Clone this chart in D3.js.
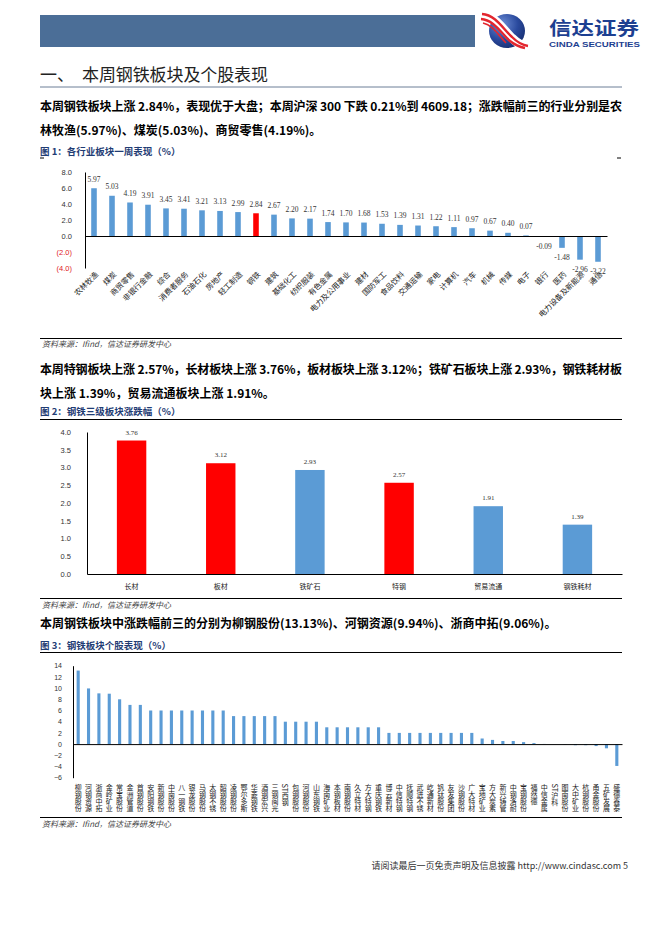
<!DOCTYPE html>
<html>
<head>
<meta charset="utf-8">
<script src="https://cdn.jsdelivr.net/npm/d3@7"></script>
<style>
    html, body { margin: 0; padding: 0; background: #fff; }
    svg { display: block; }
    .cjk { font-family: "Noto Sans CJK SC", "Noto Sans", sans-serif; }
    .num { font-family: "Liberation Sans", Arial, sans-serif; }
    .serif { font-family: "Liberation Serif", "Times New Roman", serif; }
    .tick line { display: none; }
</style>
</head>
<body>
<svg id="page" width="662" height="936"></svg>
<script>
// ---- figure 1: industries, weekly change (%)
const fig1Industries = ['农林牧渔', '煤炭', '商贸零售', '非银行金融', '综合', '消费者服务', '石油石化', '房地产',
    '轻工制造', '钢铁', '建筑', '基础化工', '纺织服装', '有色金属', '电力及公用事业', '建材', '国防军工',
    '食品饮料', '交通运输', '家电', '计算机', '汽车', '机械', '传媒', '电子', '银行', '医药',
    '电力设备及新能源', '通信'];
const fig1Values = [5.97, 5.03, 4.19, 3.91, 3.45, 3.41, 3.21, 3.13, 2.99, 2.84, 2.67, 2.20, 2.17, 1.74, 1.70,
    1.68, 1.53, 1.39, 1.31, 1.22, 1.11, 0.97, 0.67, 0.40, 0.07, -0.09, -1.48, -2.96, -3.22];
const fig1Highlight = ['钢铁'];
const fig1Ticks = [8, 6, 4, 2, 0, -2, -4];

// ---- figure 2: steel sub-sectors (%)
const fig2Sectors = ['长材', '板材', '铁矿石', '特钢', '贸易流通', '钢铁耗材'];
const fig2Values = [3.76, 3.12, 2.93, 2.57, 1.91, 1.39];
const fig2Highlight = ['长材', '板材', '特钢'];
const fig2Ticks = [0, 0.5, 1, 1.5, 2, 2.5, 3, 3.5, 4];

// ---- figure 3: steel stocks (%)
const fig3Stocks = ['柳钢股份', '河钢资源', '浙商中拓', '金岭矿业', '常宝股份', '金洲管道', '首钢股份', '安阳钢铁',
    '新钢股份', '中南股份', '八一钢铁', '银龙股份', '马钢股份', '太钢不锈', '韶钢股份', '凌钢股份', '鄂尔多斯',
    '华菱钢铁', '酒钢宏兴', '三钢闽光', 'ST西钢', '包钢股份', '河钢股份', '山东钢铁', '海南矿业', '本钢板材',
    '南钢股份', '久立特材', '方大特钢', '重庆钢铁', '博云新材', '中信特钢', '抚顺特钢', '武进不锈', '屹通新材',
    '钒钛股份', '友发集团', '沙钢股份', '广大特材', '宝地矿业', '方大炭素', '新兴铸管', '中钢洛耐', '宝钢股份',
    '福然德', '中信金属', 'ST沪科', '图南股份', '大中矿业', '杭钢股份', '甬金股份', '五矿发展', '盛德鑫泰'];
const fig3Values = [13.13, 9.94, 9.06, 9.0, 8.0, 7.0, 7.0, 6.0, 6.0, 6.0, 6.0, 6.0, 6.0, 6.0, 6.0, 5.0, 5.0,
    5.0, 5.0, 5.0, 4.0, 4.0, 4.0, 4.0, 3.0, 3.0, 3.0, 3.0, 3.0, 3.0, 2.0, 2.0, 2.0, 2.0, 2.0, 2.0, 2.0, 2.0, 2.0,
    1.0, 0.75, 0.55, 0.55, 0.35, 0.18, 0.03, -0.03, -0.08, -0.2, -0.2, -0.35, -0.75, -3.9];
const fig3Ticks = [14, 12, 10, 8, 6, 4, 2, 0, -2, -4, -6];

const BLUE = '#5b9bd5';
const RED = '#ff0000';
const TITLE_BLUE = '#1f3c74';
const SOURCE = '资料来源：Ifind，信达证券研发中心';

const svg = d3.select('#page');

// header band + logo
svg.append('rect').attr('x', 40).attr('y', 15).attr('width', 435).attr('height', 32).attr('fill', '#4b6e97');

const defs = svg.append('defs');
const grad = defs.append('radialGradient').attr('id', 'ball').attr('cx', '35%').attr('cy', '30%').attr('r', '75%');
grad.append('stop').attr('offset', '0%').attr('stop-color', '#6f8fd6');
grad.append('stop').attr('offset', '60%').attr('stop-color', '#2a4a9e');
grad.append('stop').attr('offset', '100%').attr('stop-color', '#182f72');

const logo = svg.append('g');
logo.append('ellipse').attr('cx', 507).attr('cy', 31).attr('rx', 18).attr('ry', 17).attr('fill', 'url(#ball)');
logo.append('path').attr('d', 'M482,15 C496,16 503,30 512,38 C517,43 522,46 528,47')
    .attr('fill', 'none').attr('stroke', '#fff').attr('stroke-width', 9);
logo.append('path').attr('d', 'M482,14 C496,15 503,29 512,37 C517,42 522,45 528,46')
    .attr('fill', 'none').attr('stroke', '#e3262e').attr('stroke-width', 2.4);
logo.append('path').attr('d', 'M481,19 C494,20 501,33 510,41 C515,45 520,47 525,48')
    .attr('fill', 'none').attr('stroke', '#e3262e').attr('stroke-width', 2.4);
logo.append('path').attr('d', 'M483,23 C493,25 499,36 506,43')
    .attr('fill', 'none').attr('stroke', '#e3262e').attr('stroke-width', 1.6);
logo.append('text').attr('class', 'cjk').attr('x', 549).attr('y', 34.5)
    .attr('font-size', 18).attr('font-weight', 700).attr('fill', '#1d3f91')
    .attr('textLength', 90).attr('lengthAdjust', 'spacingAndGlyphs').text('信达证券');
logo.append('text').attr('class', 'num').attr('x', 549).attr('y', 47)
    .attr('font-size', 7).attr('font-weight', 700).attr('fill', '#1d3f91')
    .attr('textLength', 91).attr('lengthAdjust', 'spacingAndGlyphs').text('CINDA SECURITIES');

// section title
svg.append('text').attr('class', 'cjk').attr('x', 40).attr('y', 81).attr('font-size', 17).attr('fill', '#222').text('一、');
svg.append('text').attr('class', 'cjk').attr('x', 82).attr('y', 81).attr('font-size', 17).attr('fill', '#222')
    .attr('textLength', 186).text('本周钢铁板块及个股表现');
svg.append('line').attr('x1', 40).attr('x2', 622).attr('y1', 87).attr('y2', 87).attr('stroke', '#6d7f97').attr('stroke-width', 1);

function paragraph(y, text, width) {
    const t = svg.append('text').attr('class', 'cjk').attr('x', 40).attr('y', y)
        .attr('font-size', 12).attr('font-weight', 700).attr('fill', '#000').text(text);
    if (width) t.attr('textLength', width).attr('lengthAdjust', 'spacing');
}
function figTitle(y, text) {
    svg.append('text').attr('class', 'cjk').attr('x', 40).attr('y', y)
        .attr('font-size', 9.5).attr('font-weight', 700).attr('fill', TITLE_BLUE).text(text);
}
function hline(y) {
    svg.append('line').attr('x1', 40).attr('x2', 622).attr('y1', y).attr('y2', y).attr('stroke', '#000').attr('stroke-width', 1);
}
function source(y) {
    svg.append('text').attr('class', 'cjk').attr('x', 42).attr('y', y)
        .attr('font-size', 8).attr('font-style', 'italic').attr('fill', '#444').text(SOURCE);
}

paragraph(111, '本周钢铁板块上涨 2.84%，表现优于大盘；本周沪深 300 下跌 0.21%到 4609.18；涨跌幅前三的行业分别是农', 582);
paragraph(135, '林牧渔(5.97%)、煤炭(5.03%)、商贸零售(4.19%)。');
figTitle(155, '图 1：各行业板块一周表现（%）');
svg.append('line').attr('x1', 40).attr('x2', 44).attr('y1', 158).attr('y2', 158).attr('stroke', '#000');
svg.append('line').attr('x1', 617).attr('x2', 621).attr('y1', 158).attr('y2', 158).attr('stroke', '#000');

// ===== figure 1
{
    const x = d3.scaleBand().domain(fig1Industries).range([85, 607]).paddingInner(0.69).paddingOuter(0.345);
    const y = d3.scaleLinear().domain([-4, 8]).range([268, 172]);
    const g = svg.append('g');

    const yAxis = g.append('g').attr('transform', 'translate(85,0)')
        .call(d3.axisLeft(y).tickValues(fig1Ticks).tickSizeOuter(0).tickPadding(7)
            .tickFormat(d => d < 0 ? `(${d3.format('.1f')(-d)})` : d3.format('.1f')(d)));
    yAxis.select('.domain').attr('stroke', '#000');
    yAxis.selectAll('text').attr('class', 'num').attr('font-size', 7.5)
        .attr('fill', d => d < 0 ? '#e0161c' : '#333');

    g.selectAll('rect.bar').data(fig1Values).enter().append('rect')
        .attr('x', (d, i) => x(fig1Industries[i]))
        .attr('y', d => y(Math.max(0, d)))
        .attr('width', x.bandwidth())
        .attr('height', d => Math.abs(y(d) - y(0)))
        .attr('fill', (d, i) => fig1Highlight.includes(fig1Industries[i]) ? RED : BLUE);

    const xAxis = g.append('g').attr('transform', `translate(0,${y(0)})`)
        .call(d3.axisBottom(x).tickSize(0).tickSizeOuter(0).tickFormat(''));
    xAxis.select('.domain').attr('stroke', '#000');

    g.selectAll('text.val').data(fig1Values).enter().append('text')
        .attr('class', 'serif').attr('font-size', 7.5).attr('fill', '#333').attr('text-anchor', 'middle')
        .attr('x', (d, i) => x(fig1Industries[i]) + x.bandwidth() / 2)
        .attr('y', d => d >= 0 ? y(d) - 6.5 : y(d) + 12.5)
        .text(d => d.toFixed(2));

    g.selectAll('text.cat').data(fig1Industries).enter().append('text')
        .attr('class', 'cjk').attr('font-size', 7.6).attr('fill', '#222').attr('text-anchor', 'end')
        .attr('transform', d => `translate(${x(d) + x.bandwidth() / 2 + 3},${y(-4) + 5}) rotate(-45)`)
        .attr('dy', '0.35em')
        .text(d => d);
}
hline(338.5);
source(347);

paragraph(374, '本周特钢板块上涨 2.57%，长材板块上涨 3.76%，板材板块上涨 3.12%；铁矿石板块上涨 2.93%，钢铁耗材板', 582);
paragraph(398, '块上涨 1.39%，贸易流通板块上涨 1.91%。');
figTitle(415, '图 2：钢铁三级板块涨跌幅（%）');
hline(419.5);

// ===== figure 2
{
    const x = d3.scaleBand().domain(fig2Sectors).range([87, 622]).paddingInner(0.67).paddingOuter(0.335);
    const y = d3.scaleLinear().domain([0, 4]).range([574, 432]);
    const g = svg.append('g');

    const yAxis = g.append('g').attr('transform', 'translate(87,0)')
        .call(d3.axisLeft(y).tickValues(fig2Ticks).tickSizeOuter(0).tickPadding(10).tickFormat(d3.format('.1f')));
    yAxis.select('.domain').attr('stroke', '#000');
    yAxis.selectAll('text').attr('class', 'num').attr('font-size', 7.5).attr('fill', '#333');

    g.selectAll('rect.bar').data(fig2Values).enter().append('rect')
        .attr('x', (d, i) => x(fig2Sectors[i]))
        .attr('y', d => y(d))
        .attr('width', x.bandwidth())
        .attr('height', d => y(0) - y(d))
        .attr('fill', (d, i) => fig2Highlight.includes(fig2Sectors[i]) ? RED : BLUE);

    const xAxis = g.append('g').attr('transform', `translate(0,${y(0)})`)
        .call(d3.axisBottom(x).tickSize(0).tickSizeOuter(0).tickPadding(10));
    xAxis.select('.domain').attr('stroke', '#000');
    xAxis.selectAll('text').attr('class', 'cjk').attr('font-size', 7).attr('fill', '#222');

    g.selectAll('text.val').data(fig2Values).enter().append('text')
        .attr('class', 'serif').attr('font-size', 7).attr('fill', '#333').attr('text-anchor', 'middle')
        .attr('x', (d, i) => x(fig2Sectors[i]) + x.bandwidth() / 2)
        .attr('y', d => y(d) - 6)
        .text(d => d.toFixed(2));
}
hline(598.5);
source(608);

paragraph(628, '本周钢铁板块中涨跌幅前三的分别为柳钢股份(13.13%)、河钢资源(9.94%)、浙商中拓(9.06%)。');
figTitle(649, '图 3：钢铁板块个股表现（%）');
hline(652.5);

// ===== figure 3
{
    const x = d3.scaleBand().domain(fig3Stocks).range([73, 622]).paddingInner(0.7).paddingOuter(0.35);
    const y = d3.scaleLinear().domain([-6, 14]).range([777.7, 665.7]);
    const g = svg.append('g');

    const yAxis = g.append('g').attr('transform', 'translate(73,0)')
        .call(d3.axisLeft(y).tickValues(fig3Ticks).tickSizeOuter(0).tickPadding(5));
    yAxis.select('.domain').attr('stroke', '#000');
    yAxis.selectAll('text').attr('class', 'num').attr('font-size', 7).attr('fill', '#333');

    g.selectAll('rect.bar').data(fig3Values).enter().append('rect')
        .attr('x', (d, i) => x(fig3Stocks[i]))
        .attr('y', d => y(Math.max(0, d)))
        .attr('width', x.bandwidth())
        .attr('height', d => Math.abs(y(d) - y(0)))
        .attr('fill', BLUE);

    const xAxis = g.append('g').attr('transform', `translate(0,${y(0)})`)
        .call(d3.axisBottom(x).tickSize(0).tickSizeOuter(0).tickFormat(''));
    xAxis.select('.domain').attr('stroke', '#000');

    g.selectAll('text.cat').data(fig3Stocks).enter().append('text')
        .attr('class', 'cjk').attr('font-size', 7).attr('fill', '#222')
        .style('writing-mode', 'vertical-rl')
        .attr('x', d => x(d) + x.bandwidth() / 2)
        .attr('y', y(-6) + 6)
        .text(d => d);
}
hline(817.5);
source(827);

// footer
svg.append('text').attr('class', 'cjk').attr('x', 628).attr('y', 869).attr('text-anchor', 'end')
    .attr('font-size', 9).attr('fill', '#333').text('请阅读最后一页免责声明及信息披露 http://www.cindasc.com  5');
</script>
</body>
</html>
